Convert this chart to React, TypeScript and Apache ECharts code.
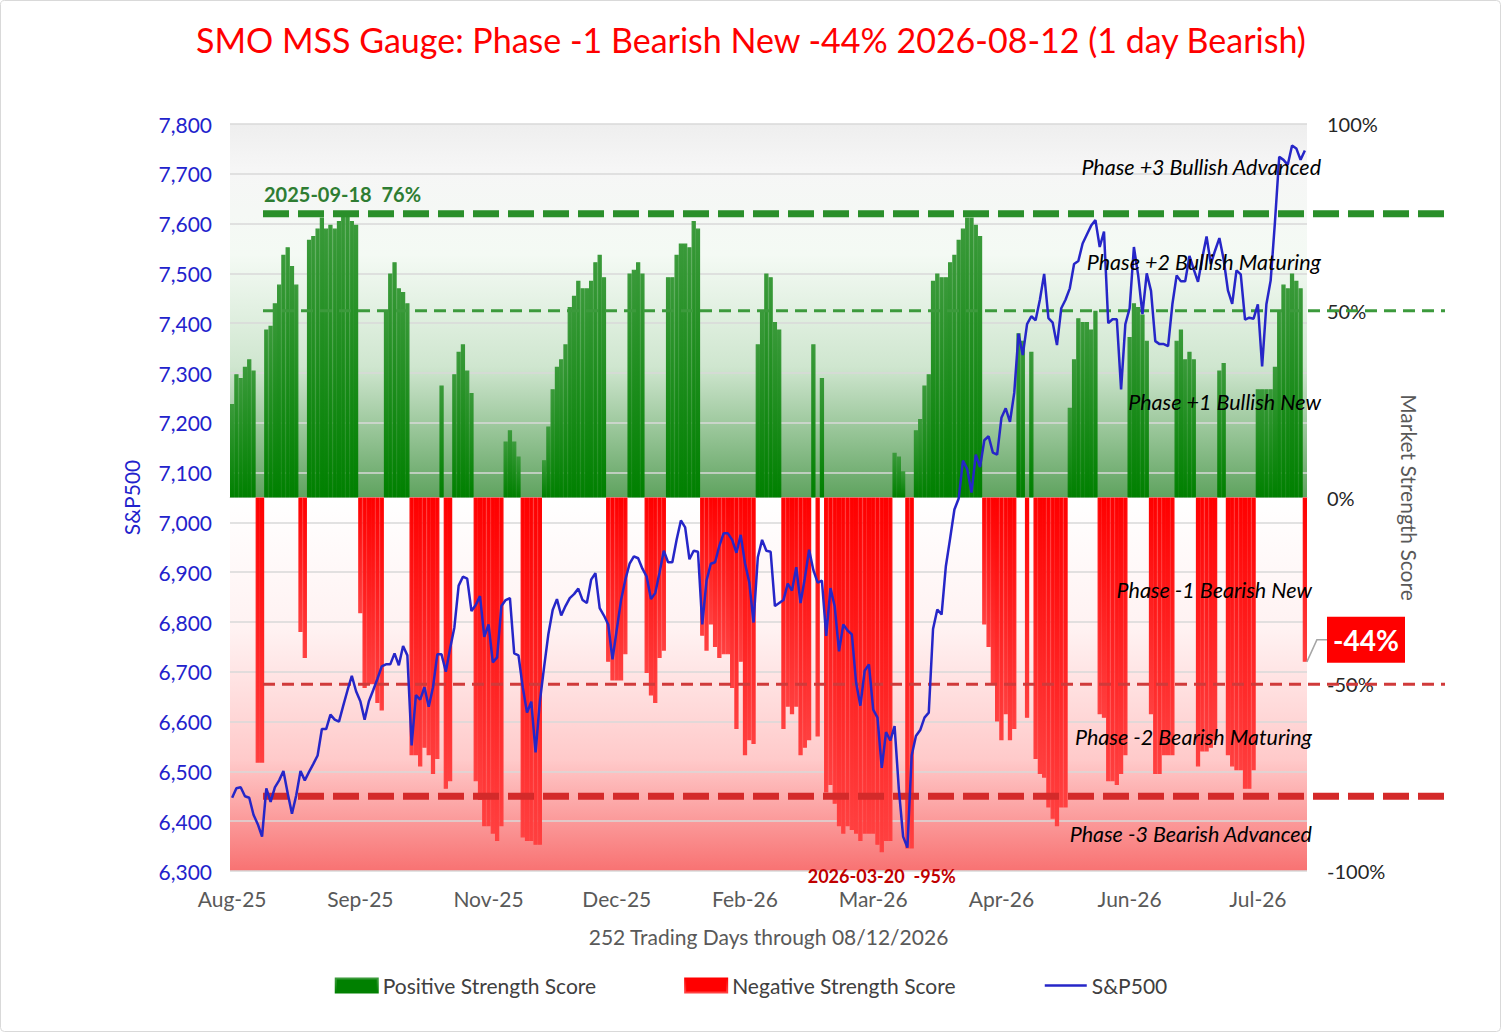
import { useEffect, useRef } from 'react'
import * as echarts from 'echarts'

const monthLabels = ['Aug-25', 'Sep-25', 'Nov-25', 'Dec-25', 'Feb-26', 'Mar-26', 'Apr-26', 'Jun-26', 'Jul-26']

const scores = [
  25, 33, 32, 35, 37, 34, -71, -71, 45, 46, 52, 57, 65, 67, 62, 57, -36, -43,
  69, 70, 72, 75, 72, 73, 72, 74, 76, 76, 74, 73, -31, -51, -50, -50, -55, -57,
  50, 60, 63, 56, 55, 52, -69, -69, -72, -67, -69, -74, -70, 30, -78, -76,
  33, 39, 41, 34, 28, -76, -81, -88, -88, -90, -92, -88, 15, 18, 15, 11,
  -91, -92, -92, -93, -93, 10, 19, 29, 35, 37, 41, 51, 54, 58, 56, 56, 58, 63, 65, 59,
  -44, -49, -49, -49, -42, 60, 61, 63, 60, -47, -53, -55, -43, -41,
  59, 59, 65, 68, 68, 67, 74, 72, -37, -41, -34, -40, -43, -42, -42, -51, -62, -44, -69, -65, -66,
  41, 50, 60, 59, 47, 45, -62, -56, -58, -56, -69, -67, -65, 41, -64, 32,
  -79, -77, -82, -88, -90, -88, -89, -90, -92, -90, -90, -90, -93, -95, -92, -92,
  12, 11, 7, -94, -94, 18, 21, 30, 33, 58, 60, 59, 59, 63, 65, 69, 72, 75, 75, 73, 70,
  -34, -40, -50, -60, -65, -58, -65, -62, 44, 42, -59, 39, -70, -74, -75, -83, -86, -88, -83, -83,
  24, 37, 48, 47, 47, 45, 50, -58, -59, -76, -76, -77, -74, -69, 43, 52, 51, 49, 42,
  -58, -74, -74, -69, -69, -69, 42, 45, 37, 39, 37, -72, -68, -68, -67, -65, 34, 36,
  -69, -72, -73, -73, -78, -78, -73, 29, 29, 29, 29, 35, 50, 57, 56, 60, 58, 56, -44,
]

const spx = [
  6447, 6466, 6468, 6450, 6447, 6413, 6394, 6369, 6466, 6439,
  6468, 6482, 6501, 6456, 6415, 6452, 6501, 6482, 6499, 6515,
  6532, 6585, 6585, 6614, 6604, 6600, 6632, 6663, 6692, 6661,
  6641, 6604, 6641, 6663, 6686, 6711, 6715, 6715, 6737, 6713,
  6752, 6733, 6552, 6653, 6644, 6669, 6630, 6669, 6735, 6735,
  6700, 6747, 6789, 6873, 6891, 6887, 6822, 6834, 6852, 6770,
  6795, 6719, 6729, 6832, 6844, 6848, 6737, 6733, 6669, 6618,
  6640, 6538, 6640, 6710, 6776, 6824, 6846, 6813, 6832, 6848,
  6856, 6867, 6844, 6838, 6885, 6898, 6828, 6813, 6795, 6725,
  6785, 6844, 6885, 6917, 6932, 6928, 6907, 6891, 6846, 6858,
  6899, 6943, 6920, 6920, 6965, 7004, 6990, 6926, 6943, 6941,
  6795, 6883, 6917, 6920, 6953, 6978, 6978, 6965, 6939, 6975,
  6918, 6880, 6799, 6930, 6965, 6943, 6941, 6832, 6838, 6844,
  6877, 6863, 6910, 6838, 6888, 6945, 6904, 6879, 6883, 6772,
  6868, 6831, 6741, 6795, 6783, 6775, 6678, 6632, 6702, 6715,
  6624, 6608, 6507, 6579, 6562, 6591, 6464, 6369, 6347, 6532,
  6571, 6583, 6608, 6618, 6786, 6825, 6815, 6912, 6968, 7026,
  7048, 7124, 7107, 7060, 7136, 7111, 7165, 7173, 7140, 7136,
  7210, 7229, 7202, 7260, 7379, 7336, 7398, 7414, 7406, 7447,
  7499, 7410, 7401, 7356, 7430, 7447, 7470, 7519, 7525, 7560,
  7578, 7596, 7607, 7553, 7584, 7400, 7408, 7408, 7267, 7398,
  7430, 7553, 7496, 7418, 7500, 7465, 7364, 7358, 7358, 7354,
  7438, 7496, 7484, 7484, 7535, 7508, 7483, 7531, 7574, 7519,
  7546, 7571, 7528, 7466, 7439, 7506, 7498, 7407, 7411, 7409,
  7438, 7313, 7438, 7486, 7603, 7734, 7728, 7718, 7757, 7751,
  7728, 7747,
]

const phaseLabels = [
  { text: 'Phase +3 Bullish Advanced', pct: 88.5, right: 1321 },
  { text: 'Phase +2 Bullish Maturing', pct: 63, right: 1321 },
  { text: 'Phase +1 Bullish New', pct: 25.7, right: 1321 },
  { text: 'Phase -1 Bearish New', pct: -24.7, right: 1312 },
  { text: 'Phase -2 Bearish Maturing', pct: -64, right: 1312 },
  { text: 'Phase -3 Bearish Advanced', pct: -90, right: 1312 },
]

const FONT = 'Lato, "Liberation Sans", sans-serif'

export default function App() {
  const ref = useRef<HTMLDivElement>(null)

  useEffect(() => {
    if (!ref.current) return
    const chart = echarts.init(ref.current, null, { renderer: 'svg' })
    const days = scores.map((_, i) => String(i))
    const pos = scores.map((v) => (v >= 0 ? v : null))
    const neg = scores.map((v) => (v < 0 ? v : null))
    const left = 230
    const right = 1307
    const top = 124
    const bottom = 871

    const greenFill = () =>
      new echarts.graphic.LinearGradient(0, 0, 0, 1, [
        { offset: 0, color: '#3a9a3a' },
        { offset: 1, color: '#008000' },
      ])
    const redFill = () =>
      new echarts.graphic.LinearGradient(0, 0, 0, 1, [
        { offset: 0, color: '#ff0000' },
        { offset: 1, color: '#ff4040' },
      ])

    chart.setOption({
      animation: false,
      backgroundColor: '#fff',
      title: {
        text: 'SMO MSS Gauge: Phase -1 Bearish New -44% 2026-08-12 (1 day Bearish)',
        left: 'center',
        top: 17,
        textStyle: { color: '#ff0000', fontSize: 34, fontWeight: 'normal', fontFamily: FONT },
      },
      legend: {
        bottom: 32,
        left: 'center',
        itemWidth: 42,
        itemHeight: 14,
        itemGap: 88,
        textStyle: { fontSize: 21, color: '#404040', fontFamily: FONT },
        data: [
          { name: 'Positive Strength Score', icon: 'rect', itemStyle: { color: '#008000' } },
          { name: 'Negative Strength Score', icon: 'rect', itemStyle: { color: '#ff0000' } },
          { name: 'S&P500', itemStyle: { opacity: 0 }, lineStyle: { color: '#2626c8', width: 2.5 } },
        ],
      },
      grid: { left, right: 1502 - right, top, bottom: 1033 - bottom },
      xAxis: {
        type: 'category',
        data: days,
        boundaryGap: true,
        name: '252 Trading Days through 08/12/2026',
        nameLocation: 'middle',
        nameGap: 55,
        nameTextStyle: { fontSize: 21, color: '#595959', fontFamily: FONT },
        axisLine: { lineStyle: { color: '#d9d9d9' } },
        axisTick: { show: false },
        axisLabel: {
          interval: (i: number) => i % 30 === 0,
          formatter: (_: string, i: number) => monthLabels[i / 30] ?? '',
          fontSize: 21,
          color: '#595959',
          fontFamily: FONT,
          margin: 17,
        },
      },
      yAxis: [
        {
          type: 'value',
          min: 6300,
          max: 7800,
          interval: 100,
          name: 'S&P500',
          nameLocation: 'middle',
          nameGap: 88,
          nameTextStyle: { fontSize: 21, color: '#2222cc', fontFamily: FONT },
          axisLabel: {
            color: '#2222cc',
            fontSize: 21,
            fontFamily: FONT,
            margin: 18,
            formatter: (v: number) => v.toLocaleString('en-US'),
          },
          splitLine: { lineStyle: { color: '#d9d9d9', width: 1.5 } },
        },
        {
          type: 'value',
          min: -100,
          max: 100,
          interval: 50,
          position: 'right',
          name: 'Market Strength Score',
          nameLocation: 'middle',
          nameRotate: -90,
          nameGap: 92,
          nameTextStyle: { fontSize: 21, color: '#595959', fontFamily: FONT },
          axisLabel: { fontSize: 20, color: '#262626', fontFamily: FONT, margin: 20, formatter: '{value}%' },
          splitLine: { show: false },
        },
      ],
      series: [
        {
          name: 'Positive Strength Score',
          type: 'bar',
          yAxisIndex: 1,
          data: pos,
          barCategoryGap: '0%',
          barGap: '-100%',
          z: 2,
          itemStyle: { color: greenFill(), borderColor: greenFill(), borderWidth: 1.2 },
        },
        {
          name: 'Negative Strength Score',
          type: 'bar',
          yAxisIndex: 1,
          data: neg,
          barCategoryGap: '0%',
          barGap: '-100%',
          z: 2,
          itemStyle: { color: redFill(), borderColor: redFill(), borderWidth: 1.2 },
        },
        {
          name: 'S&P500',
          type: 'line',
          yAxisIndex: 0,
          data: spx,
          symbol: 'none',
          z: 5,
          lineStyle: { color: '#2626c8', width: 2.5 },
          itemStyle: { color: '#2626c8' },
        },
      ],
    })

    const py = (pct: number) => chart.convertToPixel({ yAxisIndex: 1 }, pct) as number
    const px = (i: number) => chart.convertToPixel({ xAxisIndex: 0 }, i) as number
    const zero = py(0)
    const lastIdx = scores.length - 1
    const lastY = py(scores[lastIdx])
    const lastX = px(lastIdx)
    const minIdx = scores.indexOf(Math.min(...scores))

    const hline = (pct: number, color: string, width: number, dash: number[]) => ({
      type: 'line',
      z: 4,
      shape: { x1: 263, y1: py(pct), x2: 1445, y2: py(pct) },
      style: { stroke: color, lineWidth: width, lineDash: dash },
    })

    chart.setOption({
      graphic: [
        {
          type: 'rect',
          z: -10,
          shape: { x: 0.5, y: 0.5, width: 1500, height: 1031, r: 4 },
          style: { fill: '#fff', stroke: '#d9d9d9', lineWidth: 1 },
        },
        {
          type: 'rect',
          z: -5,
          shape: { x: left, y: top, width: right - left, height: zero - top },
          style: {
            fill: new echarts.graphic.LinearGradient(0, 0, 0, 1, [
              { offset: 0, color: '#eeeeee' },
              { offset: 0.12, color: '#f6f6f6' },
              { offset: 0.35, color: '#f4faf4' },
              { offset: 0.65, color: '#cfe6cf' },
              { offset: 1, color: '#5fa35f' },
            ]),
          },
        },
        {
          type: 'rect',
          z: -5,
          shape: { x: left, y: zero + 2, width: right - left, height: bottom - zero - 2 },
          style: {
            fill: new echarts.graphic.LinearGradient(0, 0, 0, 1, [
              { offset: 0, color: '#ffffff' },
              { offset: 0.35, color: '#fff2f2' },
              { offset: 0.7, color: '#ffcaca' },
              { offset: 1, color: '#f87272' },
            ]),
          },
        },
        hline(76, '#2a8f2a', 7, [26, 9]),
        hline(50, '#3c9a3c', 3, [12, 7]),
        hline(-50, '#d03a3a', 3, [12, 7]),
        hline(-80, '#d42a2a', 7, [26, 9]),
        {
          type: 'text',
          z: 6,
          x: 264,
          y: py(76) - 10,
          style: {
            text: '2025-09-18  76%',
            fill: '#2e7d32',
            font: `bold 20px ${FONT}`,
            textVerticalAlign: 'bottom',
          },
        },
        ...phaseLabels.map((p) => ({
          type: 'text',
          z: 6,
          x: p.right,
          y: py(p.pct),
          style: {
            text: p.text,
            fill: '#000',
            font: `italic 21.5px ${FONT}`,
            textAlign: 'right',
            textVerticalAlign: 'middle',
          },
        })),
        {
          type: 'text',
          z: 6,
          x: px(minIdx),
          y: bottom + 5,
          style: {
            text: `2026-03-20  ${scores[minIdx]}%`,
            fill: '#c00000',
            font: `bold 18px ${FONT}`,
            textAlign: 'center',
            textVerticalAlign: 'middle',
          },
        },
        {
          type: 'polyline',
          z: 6,
          shape: { points: [[lastX + 2, lastY], [lastX + 12, lastY - 22], [1327, lastY - 22]] },
          style: { stroke: '#a6a6a6', lineWidth: 1.5, fill: null },
        },
        {
          type: 'rect',
          z: 6,
          shape: { x: 1327, y: lastY - 45, width: 78, height: 46 },
          style: { fill: '#ff0000' },
        },
        {
          type: 'text',
          z: 7,
          x: 1366,
          y: lastY - 22,
          style: {
            text: `${scores[lastIdx]}%`,
            fill: '#fff',
            font: `bold 28px ${FONT}`,
            textAlign: 'center',
            textVerticalAlign: 'middle',
          },
        },
      ],
    })

    return () => {
      chart.dispose()
    }
  }, [])

  return (
    <div
      ref={ref}
      style={{ position: 'fixed', left: 0, top: 0, width: '1502px', height: '1033px' }}
    />
  )
}
